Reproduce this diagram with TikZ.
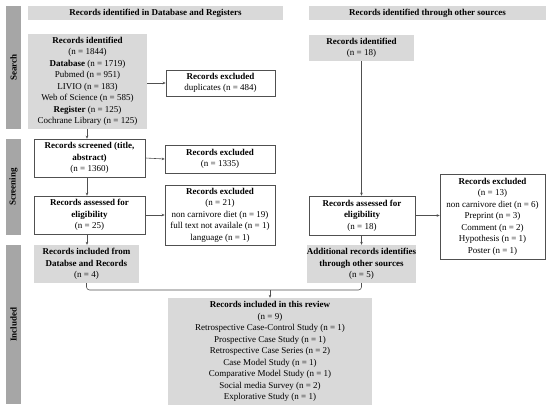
\documentclass[tikz,border=0pt]{standalone}
\usepackage{fontspec}
\setmainfont{Liberation Serif}
\usetikzlibrary{arrows.meta}
\definecolor{boxgray}{HTML}{D9D9D9}
\definecolor{bargray}{HTML}{A6A6A6}
\definecolor{linegray}{HTML}{505050}
\tikzset{
  base/.style={inner sep=0pt, align=center, font=\fontsize{9}{11.5}\selectfont},
  graybox/.style={base, fill=boxgray},
  whitebox/.style={base, draw=linegray, line width=0.6pt, fill=white},
  sidebar/.style={base, fill=bargray, font=\fontsize{9}{11.5}\selectfont\bfseries, rotate=90},
  conn/.style={draw=linegray, line width=0.6pt},
  arr/.style={conn, -{Stealth[length=3pt,width=2.6pt]}},
}
\begin{document}
\begin{tikzpicture}[x=1pt,y=-1pt]
\useasboundingbox (0,0) rectangle (550,412);
% headers
\node[graybox, minimum width=255pt, minimum height=14pt] (hdrL) at (155.5,13.5) {\textbf{Records identified in Database and Registers}};
\node[graybox, minimum width=237pt, minimum height=14pt] (hdrR) at (427.5,13.5) {\textbf{Records identified through other sources}};
% side bars
\node[sidebar, minimum width=123pt, minimum height=15pt] (barS) at (13.5,67.5) {Search};
\node[sidebar, minimum width=96pt, minimum height=15pt] (barSc) at (13.5,187) {Screening};
\node[sidebar, minimum width=159pt, minimum height=15pt] (barI) at (13.5,324.5) {Included};
% left column
\node[graybox, minimum width=119pt, minimum height=95pt] (ident) at (87.5,81.5) {\textbf{Records identified}\\(n = 1844)\\\textbf{Database} (n = 1719)\\Pubmed (n = 951)\\LIVIO (n = 183)\\Web of Science (n = 585)\\\textbf{Register} (n = 125)\\Cochrane Library (n = 125)};
\node[whitebox, minimum width=109pt, minimum height=26pt] (exdup) at (220.5,83) {\textbf{Records excluded}\\duplicates (n = 484)};
\node[whitebox, minimum width=111pt, minimum height=38pt] (screened) at (89.5,158) {\textbf{Records screened (title,}\\\textbf{abstract)}\\(n = 1360)};
\node[whitebox, minimum width=110pt, minimum height=28pt] (ex1335) at (220,159) {\textbf{Records excluded}\\(n = 1335)};
\node[whitebox, minimum width=111pt, minimum height=38pt] (assessL) at (89.5,215) {\textbf{Records assessed for}\\\textbf{eligibility}\\(n = 25)};
\node[whitebox, minimum width=110pt, minimum height=60pt] (ex21) at (220,215) {\textbf{Records excluded}\\(n = 21)\\non carnivore diet (n = 19)\\full text not availale (n = 1)\\language (n = 1)};
\node[graybox, minimum width=105pt, minimum height=38pt] (inclL) at (86.5,264) {\textbf{Records included from}\\\textbf{Databse and Records}\\(n = 4)};
% right column
\node[graybox, minimum width=105pt, minimum height=26pt] (identR) at (361.5,48) {\textbf{Records identified}\\(n = 18)};
\node[whitebox, minimum width=106pt, minimum height=39pt] (assessR) at (362,215.5) {\textbf{Records assessed for}\\\textbf{eligibility}\\(n = 18)};
\node[whitebox, minimum width=105pt, minimum height=85pt] (ex13) at (492.5,216.5) {\textbf{Records excluded}\\(n = 13)\\non carnivore diet (n = 6)\\Preprint (n = 3)\\Comment (n = 2)\\Hypothesis (n = 1)\\Poster (n = 1)};
\node[graybox, minimum width=105pt, minimum height=38pt] (addR) at (361.5,264) {\textbf{Additional records identifies}\\\textbf{through other sources}\\(n = 5)};
% final
\node[graybox, minimum width=204pt, minimum height=107pt] (final) at (270,351.5) {\textbf{Records included in this review}\\(n = 9)\\Retrospective Case-Control Study (n = 1)\\Prospective Case Study (n = 1)\\Retrospective Case Series (n = 2)\\Case Model Study (n = 1)\\Comparative Model Study (n = 1)\\Social media Survey (n = 2)\\Explorative Study (n = 1)};
% connectors
\coordinate (c1) at (87,0);
\draw[arr] (ident.south -| c1) -- (screened.north -| c1);
\draw[arr] (screened.south -| c1) -- (assessL.north -| c1);
\draw[arr] (assessL.south -| c1) -- (inclL.north -| c1);
\draw[arr] (ident.east |- exdup.west) -- (exdup.west);
\draw[arr] (screened.east) -- (ex1335.west);
\draw[arr] (assessL.east) -- (ex21.west);
\draw[arr] (identR.south) -- (assessR.north -| identR.south);
\draw[arr] (assessR.east) -- (ex13.west |- assessR.east);
\draw[arr] (assessR.south -| addR.south) -- (addR.north);
\coordinate (mline) at (0,290);
\draw[conn, rounded corners=3pt] (inclL.south) |- (addR.south |- mline) -- (addR.south);
\draw[arr] (final.north |- mline) -- (final.north);
\end{tikzpicture}
\end{document}
